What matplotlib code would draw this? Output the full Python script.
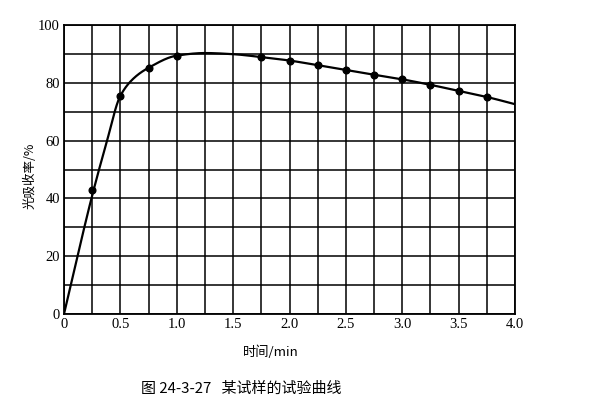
import numpy as np
import matplotlib
matplotlib.use("Agg")
import matplotlib.pyplot as plt

# measured points (markers)
pt_x = [0.25, 0.5, 0.75, 1.0, 1.75, 2.0, 2.25, 2.5, 2.75, 3.0, 3.25, 3.5, 3.75]
pt_y = [43.0, 75.5, 85.2, 89.4, 88.8, 87.7, 86.1, 84.4, 82.8, 81.2, 79.3, 77.2, 75.1]

# fitted curve knots
cv_x = [0.0, 0.25, 0.375, 0.5, 0.625, 0.75, 1.0, 1.25, 1.5, 1.75, 2.0, 2.25, 2.5, 2.75, 3.0, 3.25, 3.5, 3.75, 4.0]
cv_y = [0.0, 41.0, 59.0, 75.5, 81.8, 85.2, 89.4, 90.3, 89.9, 88.9, 87.7, 86.1, 84.4, 82.8, 81.2, 79.3, 77.2, 75.1, 72.6]

x_ticks = [0, 0.5, 1.0, 1.5, 2.0, 2.5, 3.0, 3.5, 4.0]
x_tick_labels = ["0", "0.5", "1.0", "1.5", "2.0", "2.5", "3.0", "3.5", "4.0"]
y_ticks = [0, 20, 40, 60, 80, 100]

x_label = "时间/min"
y_label = "光吸收率/%"
caption = "图 24-3-27   某试样的试验曲线"


def pchip(xk, yk, xs):
    xk = np.asarray(xk, float); yk = np.asarray(yk, float)
    h = np.diff(xk); d = np.diff(yk) / h
    m = np.zeros_like(yk)
    for i in range(1, len(xk) - 1):
        if d[i - 1] * d[i] > 0:
            w1 = 2 * h[i] + h[i - 1]; w2 = h[i] + 2 * h[i - 1]
            m[i] = (w1 + w2) / (w1 / d[i - 1] + w2 / d[i])
    m[0] = d[0]; m[-1] = d[-1]
    idx = np.clip(np.searchsorted(xk, xs) - 1, 0, len(xk) - 2)
    t = (xs - xk[idx]) / h[idx]
    h00 = 2 * t**3 - 3 * t**2 + 1; h10 = t**3 - 2 * t**2 + t
    h01 = -2 * t**3 + 3 * t**2; h11 = t**3 - t**2
    return h00 * yk[idx] + h10 * h[idx] * m[idx] + h01 * yk[idx + 1] + h11 * h[idx] * m[idx + 1]


plt.rcParams['font.family'] = ['Liberation Serif', 'Noto Sans CJK SC']
fig = plt.figure(figsize=(5.9, 4.08), dpi=100)
W, H = 590, 408
left, right, top, bottom = 64, 515, 25, 314
ax = fig.add_axes([left / W, 1 - bottom / H, (right - left) / W, (bottom - top) / H])

xs = np.linspace(0, 4.0, 600)
ax.plot(xs, pchip(cv_x, cv_y, xs), color='black', lw=1.6, zorder=3)
ax.plot(pt_x, pt_y, 'o', color='black', ms=4.8, zorder=4)

ax.set_xlim(0, 4.0)
ax.set_ylim(0, 100)
ax.set_xticks(np.arange(0, 4.01, 0.25), minor=True)
ax.set_yticks(np.arange(0, 101, 10), minor=True)
ax.set_xticks(x_ticks)
ax.set_xticklabels(x_tick_labels)
ax.set_yticks(y_ticks)
ax.grid(which='both', color='black', lw=1.1)
ax.tick_params(which='both', length=0, labelsize=10.5, pad=3)
for s in ax.spines.values():
    s.set_color('black'); s.set_linewidth(1.3)

fig.text(271 / W, 1 - 352 / H, x_label, ha='center', va='center', fontsize=9.5,
         family=['Noto Sans CJK SC', 'DejaVu Sans'])
fig.text(30 / W, 1 - 176 / H, y_label, ha='center', va='center', rotation=90, fontsize=9,
         family=['Noto Sans CJK SC', 'DejaVu Sans'])
fig.text(241 / W, 1 - 389 / H, caption, ha='center', va='center', fontsize=10.8,
         family=['Noto Sans CJK SC', 'DejaVu Sans'])

fig.savefig('out.png', dpi=100)
